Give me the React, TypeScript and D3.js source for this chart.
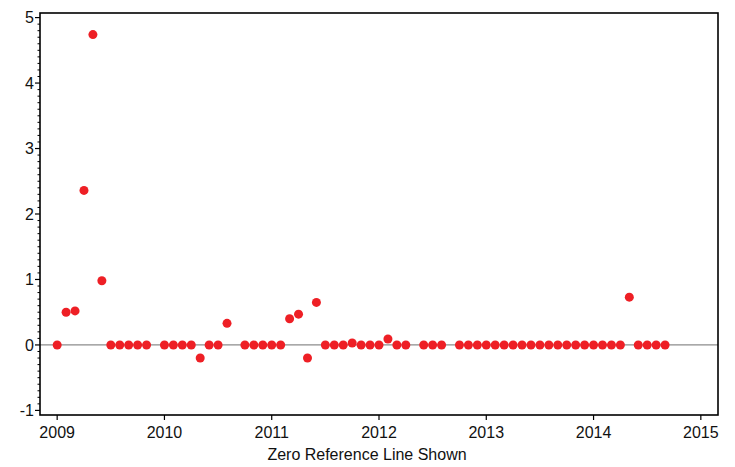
import React from "react";
import * as d3 from "d3";

const dates: string[] = [
  "2009-01","2009-02","2009-03","2009-04","2009-05","2009-06","2009-07","2009-08","2009-09","2009-10","2009-11",
  "2010-01","2010-02","2010-03","2010-04","2010-05","2010-06","2010-07","2010-08",
  "2010-10","2010-11","2010-12","2011-01","2011-02","2011-03","2011-04","2011-05","2011-06","2011-07","2011-08","2011-09",
  "2011-10","2011-11","2011-12","2012-01","2012-02","2012-03","2012-04",
  "2012-06","2012-07","2012-08",
  "2012-10","2012-11","2012-12","2013-01","2013-02","2013-03","2013-04","2013-05","2013-06","2013-07","2013-08","2013-09",
  "2013-10","2013-11","2013-12","2014-01","2014-02","2014-03","2014-04","2014-05","2014-06","2014-07","2014-08","2014-09",
];
const values: number[] = [
  0, 0.5, 0.52, 2.36, 4.74, 0.98, 0, 0, 0, 0, 0,
  0, 0, 0, 0, -0.2, 0, 0, 0.33,
  0, 0, 0, 0, 0, 0.4, 0.47, -0.2, 0.65, 0, 0, 0,
  0.03, 0, 0, 0, 0.09, 0, 0,
  0, 0, 0,
  0, 0, 0, 0, 0, 0, 0, 0, 0, 0, 0, 0,
  0, 0, 0, 0, 0, 0, 0, 0.73, 0, 0, 0, 0,
];
const xTicks: number[] = [2009, 2010, 2011, 2012, 2013, 2014, 2015];
const yTicks: number[] = [-1, 0, 1, 2, 3, 4, 5];
const xTitle = "Zero Reference Line Shown";

const W = 735, H = 467;
const L = 40, R = 718, T = 13, B = 415;
const font = "'Liberation Sans', Arial, sans-serif";

function toYear(s: string): number {
  const [y, m] = s.split("-").map(Number);
  return y + (m - 1) / 12;
}

export default function App() {
  const x = d3.scaleLinear().domain([2008.84, 2015.16]).range([L, R]);
  const y = d3.scaleLinear().domain([-1.07, 5.07]).range([B, T]);
  const minor = d3.range(-10, 51).map((v) => v / 10).filter((v) => Math.abs(v - Math.round(v)) > 1e-6);

  return (
    <svg width={W} height={H} style={{ position: "absolute", left: 0, top: 0, background: "#fff" }}>
      <rect x={0} y={0} width={W} height={H} fill="#fff" />
      <line x1={L} x2={R} y1={y(0)} y2={y(0)} stroke="#8c8c8c" strokeWidth={1.3} />
      {dates.map((d, i) => (
        <circle key={i} cx={x(toYear(d))} cy={y(values[i])} r={4.5} fill="#ee1f25" />
      ))}
      <rect x={L} y={T} width={R - L} height={B - T} fill="none" stroke="#000" strokeWidth={1.6} />
      {minor.map((v, i) => (
        <line key={"m" + i} x1={L - 2.5} x2={L} y1={y(v)} y2={y(v)} stroke="#000" strokeWidth={1} />
      ))}
      {yTicks.map((v) => (
        <g key={"y" + v}>
          <line x1={L - 5} x2={L} y1={y(v)} y2={y(v)} stroke="#000" strokeWidth={1.2} />
          <text x={L - 6} y={y(v)} dy="0.36em" textAnchor="end" fontFamily={font} fontSize={16} fill="#111">
            {v}
          </text>
        </g>
      ))}
      {xTicks.map((v) => (
        <g key={"x" + v}>
          <line x1={x(v)} x2={x(v)} y1={B} y2={B + 5} stroke="#000" strokeWidth={1.2} />
          <text x={x(v)} y={B + 23} textAnchor="middle" fontFamily={font} fontSize={16} fill="#111">
            {v}
          </text>
        </g>
      ))}
      <text x={367} y={460} textAnchor="middle" fontFamily={font} fontSize={16} fill="#111">
        {xTitle}
      </text>
    </svg>
  );
}
